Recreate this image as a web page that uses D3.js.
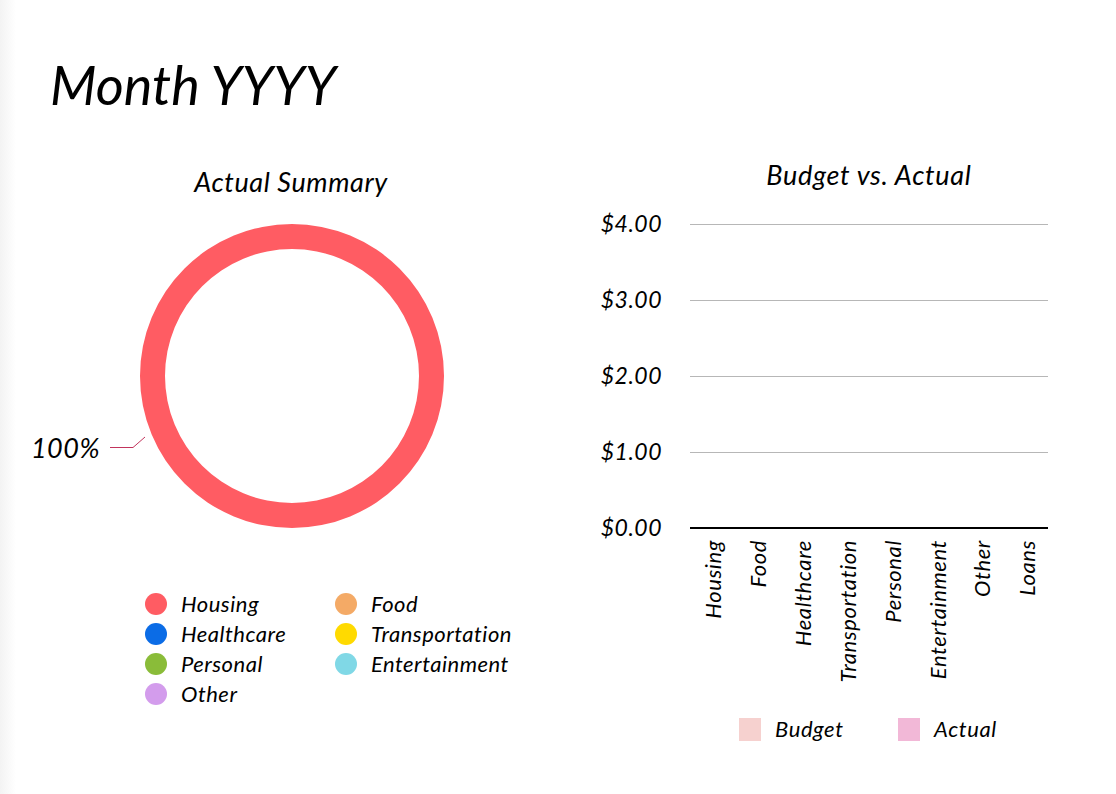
<!DOCTYPE html>
<html><head><meta charset="utf-8">
<script src="https://cdn.jsdelivr.net/npm/d3@7"></script>
<style>
html,body{margin:0;padding:0;background:#fff;}
svg{display:block;}
text{font-family:"Lato","Open Sans",sans-serif;font-style:italic;fill:#000;}
</style></head>
<body>
<svg id="c" width="1116" height="794"></svg>
<script>
// ---- data ----
const pieCategories = ["Housing","Food","Healthcare","Transportation","Personal","Entertainment","Other"];
const pieColors = ["#FF5C63","#F4AA66","#0B6CE6","#FFDA00","#8ABC39","#80D8E6","#D39CEC"];
const pieValues = [1,0,0,0,0,0,0];
const barCategories = ["Housing","Food","Healthcare","Transportation","Personal","Entertainment","Other","Loans"];
const budgetValues = [0,0,0,0,0,0,0,0];
const actualValues = [0,0,0,0,0,0,0,0];
const yTicks = [0,1,2,3,4];
const seriesNames = ["Budget","Actual"];
const seriesColors = ["#F6D1CF","#F2B8D7"];

const svg = d3.select("#c");

// faint left edge shadow
const defs = svg.append("defs");
const g1 = defs.append("linearGradient").attr("id","edge").attr("x1","0").attr("x2","1");
g1.append("stop").attr("offset","0").attr("stop-color","#f3f3f3");
g1.append("stop").attr("offset","1").attr("stop-color","#ffffff");
svg.append("rect").attr("x",0).attr("y",0).attr("width",16).attr("height",794).attr("fill","url(#edge)");

// title
svg.append("text").attr("x",50).attr("y",105).attr("font-size",54).text("Month YYYY");

// ---- donut ----
svg.append("text").attr("x",291).attr("y",192).attr("text-anchor","middle").attr("font-size",27).attr("letter-spacing",0.6).text("Actual Summary");
const cx=292, cy=376, rOut=152, rIn=127;
const pie = d3.pie().sort(null).value(d=>d)(pieValues);
const arc = d3.arc().innerRadius(rIn).outerRadius(rOut);
const dg = svg.append("g").attr("transform",`translate(${cx},${cy})`);
dg.selectAll("path").data(pie).join("path").attr("d",arc).attr("fill",(d,i)=>pieColors[i]);
// label for largest slice
const total = d3.sum(pieValues);
const pct = d3.format(".0%")(pieValues[0]/total);
svg.append("path").attr("d","M110,447.5 L133,447.5 L145,437").attr("fill","none").attr("stroke","#C2345C").attr("stroke-width",1);
svg.append("text").attr("x",100).attr("y",458).attr("text-anchor","end").attr("font-size",27).attr("letter-spacing",0.5).text(pct);

// pie legend
const lg = svg.append("g");
pieCategories.forEach((c,i)=>{
  const col = i<6 ? i%2 : 0;
  const row = Math.floor(i/2);
  const x = col===0?156:346, y = 604 + row*30;
  lg.append("circle").attr("cx",x).attr("cy",y).attr("r",11).attr("fill",pieColors[i]);
  lg.append("text").attr("x",x+25).attr("y",y+8).attr("font-size",22).attr("letter-spacing",0.5).text(c);
});

// ---- bar chart ----
svg.append("text").attr("x",869).attr("y",185).attr("text-anchor","middle").attr("font-size",27).attr("letter-spacing",0.7).text("Budget vs. Actual");
const x0 = d3.scaleBand().domain(barCategories).range([690,1049]).paddingInner(0.2).paddingOuter(0.1);
const x1 = d3.scaleBand().domain(seriesNames).range([0,x0.bandwidth()]);
const y = d3.scaleLinear().domain([0,4]).range([528,224]);

const grid = svg.append("g");
grid.selectAll("line").data(yTicks.filter(t=>t>0)).join("line")
  .attr("x1",690).attr("x2",1048).attr("y1",d=>y(d)+0.5).attr("y2",d=>y(d)+0.5)
  .attr("stroke","#b7b7b7").attr("stroke-width",1);
svg.append("g").selectAll("text").data(yTicks).join("text")
  .attr("x",662).attr("y",d=>y(d)+8).attr("text-anchor","end").attr("font-size",23).attr("letter-spacing",0.5)
  .text(d=>"$"+d3.format(".2f")(d));

// bars (zero-height)
const bg = svg.append("g");
barCategories.forEach((c,i)=>{
  [budgetValues[i],actualValues[i]].forEach((v,j)=>{
    bg.append("rect").attr("x",x0(c)+x1(seriesNames[j])).attr("width",x1.bandwidth())
      .attr("y",y(v)).attr("height",y(0)-y(v)).attr("fill",seriesColors[j]);
  });
});
svg.append("line").attr("x1",690).attr("x2",1048).attr("y1",y(0)).attr("y2",y(0)).attr("stroke","#000").attr("stroke-width",2);

// x labels
const xb = d3.scaleBand().domain(barCategories).range([690,1049]);
svg.append("g").selectAll("text").data(barCategories).join("text")
  .attr("transform",d=>`translate(${xb(d)+xb.bandwidth()/2+1},540) rotate(-90)`)
  .attr("text-anchor","end").attr("dy","0.35em").attr("font-size",22).attr("letter-spacing",0.6).text(d=>d);

// series legend
const sl = svg.append("g");
seriesNames.forEach((s,i)=>{
  const x = 739 + i*159;
  sl.append("rect").attr("x",x).attr("y",718).attr("width",22).attr("height",23).attr("fill",seriesColors[i]);
  sl.append("text").attr("x",x+36).attr("y",737).attr("font-size",22).attr("letter-spacing",0.6).text(s);
});
</script>
</body></html>
